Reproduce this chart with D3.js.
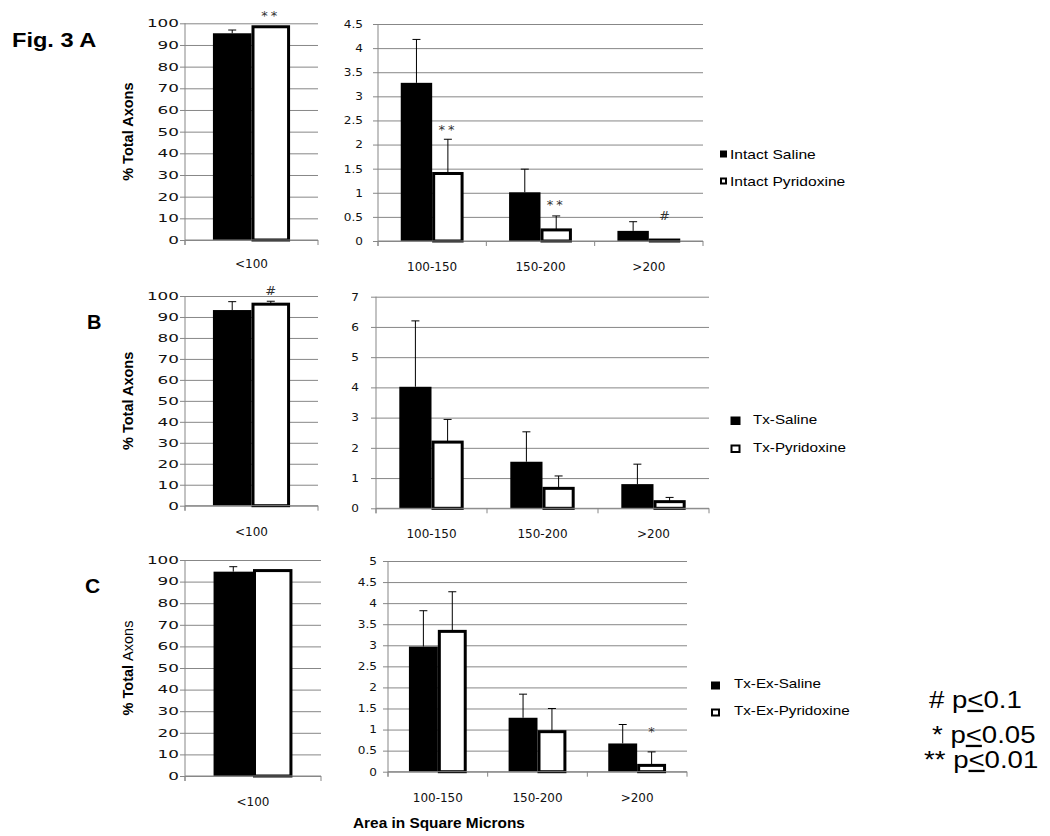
<!DOCTYPE html>
<html>
<head>
<meta charset="utf-8">
<script src="https://cdn.jsdelivr.net/npm/d3@7"></script>
<style>
  body { margin: 0; background: #fff; }
  svg { display: block; }
</style>
</head>
<body>
<script>
// categories and tick values
const leftCats = ["<100"];
const rightCats = ["100-150", "150-200", ">200"];
const leftTicks = [0, 10, 20, 30, 40, 50, 60, 70, 80, 90, 100];
const aTicks = [0, 0.5, 1, 1.5, 2, 2.5, 3, 3.5, 4, 4.5];
const bTicks = [0, 1, 2, 3, 4, 5, 6, 7];
const cTicks = [0, 0.5, 1, 1.5, 2, 2.5, 3, 3.5, 4, 4.5, 5];

// A: intact
const aNames = ["Intact Saline", "Intact Pyridoxine"];
const aSaline = [95.4, 3.28, 1.01, 0.21];
const aSalineErr = [1.5, 0.9, 0.48, 0.19];
const aPyr = [98.4, 1.40, 0.23, 0.02];
const aPyrErr = [0, 0.71, 0.29, 0];
const aMarks = ["**", "**", "**", "#"];
const aMarkAt = [101.5, 2.22, 0.66, 0.43];

// B: transected
const bNames = ["Tx-Saline", "Tx-Pyridoxine"];
const bSaline = [93.3, 4.02, 1.54, 0.80];
const bSalineErr = [4.0, 2.18, 0.99, 0.66];
const bPyr = [96.1, 2.19, 0.66, 0.22];
const bPyrErr = [1.4, 0.75, 0.41, 0.14];
const bMarks = ["#", null, null, null];
const bMarkAt = [100.7, 0, 0, 0];

// C: transected + exercise
const cNames = ["Tx-Ex-Saline", "Tx-Ex-Pyridoxine"];
const cSaline = [94.6, 2.97, 1.28, 0.67];
const cSalineErr = [2.3, 0.85, 0.56, 0.45];
const cPyr = [95.1, 3.33, 0.95, 0.15];
const cPyrErr = [0, 0.94, 0.55, 0.32];
const cMarks = [null, null, null, "*"];
const cMarkAt = [0, 0, 0, 0.85];

const grid = "#878787";
const tickFont = "DejaVu Sans, Verdana, sans-serif";
const arial = "Liberation Sans, Arial, sans-serif";

const svg = d3.select("body").append("svg")
  .attr("width", 1050).attr("height", 836);
svg.append("rect").attr("width", 1050).attr("height", 836).attr("fill", "#fff");

function label(x, y, str, o = {}) {
  return svg.append("text")
    .attr("transform", `translate(${x},${y}) scale(${o.sx || 1},1)`)
    .attr("font-family", o.family || arial)
    .attr("font-size", o.size || 12)
    .attr("font-weight", o.weight || "normal")
    .attr("text-anchor", o.anchor || "start")
    .attr("fill", "#000")
    .text(str);
}

// one bar chart (left or right half of a panel)
function chart(c) {
  const g = svg.append("g");
  const y = d3.scaleLinear().domain([0, c.max]).range([c.yBot, c.yTop]);
  const x = d3.scaleBand().domain(c.cats).range([c.x0, c.x1])
    .paddingInner(0.42).paddingOuter(0.21);
  const xs = d3.scaleBand().domain([0, 1]).range([0, x.bandwidth()]);

  const ya = g.append("g")
    .attr("transform", `translate(${c.x0},0)`)
    .call(d3.axisLeft(y).tickValues(c.ticks).tickSize(-(c.x1 - c.x0))
      .tickPadding(0).tickFormat(d3.format("~g")));
  ya.select(".domain").remove();
  ya.selectAll("line").attr("x1", -5).attr("stroke", grid);
  ya.selectAll("text")
    .attr("x", null)
    .attr("transform", `translate(${-c.gap},0) scale(${c.sx},1)`)
    .attr("font-family", tickFont).attr("font-size", 10.5).attr("fill", "#111");

  c.cats.forEach((cat, i) => {
    const vals = [c.s[i], c.p[i]];
    const errs = [c.se[i], c.pe[i]];
    vals.forEach((v, j) => {
      const bx = x(cat) + xs(j);
      const bw = xs.bandwidth();
      if (j === 0) {
        g.append("rect").attr("x", bx).attr("y", y(v))
          .attr("width", bw).attr("height", y(0) - y(v)).attr("fill", "#000");
      } else {
        g.append("rect").attr("x", bx + 1.5).attr("y", y(v))
          .attr("width", bw - 3).attr("height", y(0) - y(v))
          .attr("fill", "#fff").attr("stroke", "#000").attr("stroke-width", 3);
      }
      const e = errs[j];
      if (e > 0) {
        const cx = bx + bw / 2;
        g.append("line").attr("x1", cx).attr("x2", cx)
          .attr("y1", y(v)).attr("y2", y(v + e)).attr("stroke", "#000");
        g.append("line").attr("x1", cx - 4).attr("x2", cx + 4)
          .attr("y1", y(v + e)).attr("y2", y(v + e)).attr("stroke", "#000");
      }
    });
    if (c.marks[i]) {
      g.append("text")
        .attr("x", x(cat) + xs(1) + xs.bandwidth() / 2)
        .attr("y", y(c.markAt[i]))
        .attr("text-anchor", "middle")
        .attr("font-family", tickFont).attr("font-size", 13)
        .attr("letter-spacing", c.marks[i] === "**" ? 3 : 0)
        .attr("fill", "#333")
        .text(c.marks[i]);
    }
    g.append("text")
      .attr("x", x(cat) + x.bandwidth() / 2)
      .attr("y", c.yBot + c.catDy)
      .attr("text-anchor", "middle")
      .attr("font-family", tickFont).attr("font-size", 12).attr("fill", "#111")
      .text(cat);
  });

  // axis lines
  g.append("line").attr("x1", c.x0).attr("x2", c.x0)
    .attr("y1", c.yTop).attr("y2", c.yBot + 5).attr("stroke", grid);
  g.append("line").attr("x1", c.x0).attr("x2", c.x1)
    .attr("y1", c.yBot).attr("y2", c.yBot).attr("stroke", grid);
  d3.range(c.cats.length + 1).forEach(k => {
    const tx = c.x0 + k * x.step();
    g.append("line").attr("x1", tx).attr("x2", tx)
      .attr("y1", c.yBot).attr("y2", c.yBot + 5).attr("stroke", grid);
  });
}

function panel(p) {
  chart({ x0: 185, x1: p.lx1, yTop: p.lTop, yBot: p.lBot, max: 100, ticks: leftTicks,
    cats: leftCats, s: p.s.slice(0, 1), p: p.p.slice(0, 1), se: p.se.slice(0, 1), pe: p.pe.slice(0, 1),
    marks: p.marks.slice(0, 1), markAt: p.markAt.slice(0, 1), sx: 1.6, gap: 6, catDy: p.lCatDy });
  chart({ x0: p.rx0, x1: p.rx1, yTop: p.rTop, yBot: p.rBot, max: p.rMax, ticks: p.rTicks,
    cats: rightCats, s: p.s.slice(1), p: p.p.slice(1), se: p.se.slice(1), pe: p.pe.slice(1),
    marks: p.marks.slice(1), markAt: p.markAt.slice(1), sx: 1.15, gap: p.rGap, catDy: 30 });
  const yt = svg.append("text")
    .attr("transform", `translate(133,${(p.lTop + p.lBot) / 2}) rotate(-90)`)
    .attr("text-anchor", "middle")
    .attr("font-family", arial).attr("font-size", 14.5).attr("font-weight", "bold");
  yt.append("tspan").text("% Total ");
  yt.append("tspan").attr("font-weight", p.axonsWeight).text("Axons");
}

panel({ lx1: 318, lTop: 23.3, lBot: 240, lCatDy: 28, rx0: 378, rx1: 703, rTop: 24, rBot: 241,
  rMax: 4.5, rTicks: aTicks, rGap: 15, axonsWeight: "bold",
  s: aSaline, p: aPyr, se: aSalineErr, pe: aPyrErr, marks: aMarks, markAt: aMarkAt });
panel({ lx1: 318, lTop: 296, lBot: 505.7, lCatDy: 30, rx0: 376, rx1: 709, rTop: 296.7, rBot: 508.3,
  rMax: 7, rTicks: bTicks, rGap: 17, axonsWeight: "bold",
  s: bSaline, p: bPyr, se: bSalineErr, pe: bPyrErr, marks: bMarks, markAt: bMarkAt });
panel({ lx1: 321, lTop: 560, lBot: 776, lCatDy: 30, rx0: 388, rx1: 687, rTop: 561, rBot: 771.7,
  rMax: 5, rTicks: cTicks, rGap: 11, axonsWeight: "normal",
  s: cSaline, p: cPyr, se: cSalineErr, pe: cPyrErr, marks: cMarks, markAt: cMarkAt });

// panel letters
label(12, 47.3, "Fig. 3 A", { size: 20, weight: "bold", sx: 1.18 });
label(87, 329.3, "B", { size: 20, weight: "bold" });
label(85, 593.3, "C", { size: 21, weight: "bold" });

// legends
function legend(names, sq, tx, y1, y2, size, sx) {
  [y1, y2].forEach((yy, j) => {
    if (j === 0) {
      svg.append("rect").attr("x", sq.x).attr("y", yy - sq.h - sq.lift)
        .attr("width", sq.w).attr("height", sq.h).attr("fill", "#000");
    } else {
      svg.append("rect").attr("x", sq.x + 1).attr("y", yy - sq.h - sq.lift + 1)
        .attr("width", sq.w - 2).attr("height", sq.h - 2)
        .attr("fill", "#fff").attr("stroke", "#000").attr("stroke-width", 2);
    }
    label(tx, yy, names[j], { size: size, sx: sx });
  });
}
legend(aNames, { x: 720, w: 7, h: 7, lift: 1.5 }, 730, 159, 186, 12, 1.3);
legend(bNames, { x: 730.5, w: 10, h: 8.5, lift: -1 }, 753, 424, 452, 13, 1.17);
legend(cNames, { x: 711, w: 9, h: 8, lift: -1.5 }, 734, 688, 715, 13, 1.17);

// significance key
function pKey(x, y, pre, lev) {
  const t = svg.append("text")
    .attr("transform", `translate(${x},${y}) scale(1.2,1)`)
    .attr("font-family", arial).attr("font-size", 23).attr("fill", "#000");
  t.append("tspan").text(pre + " p");
  t.append("tspan").style("text-decoration", "underline").text("<");
  t.append("tspan").text(lev);
}
pKey(929, 708, "#", "0.1");
pKey(932, 743, "*", "0.05");
pKey(924, 768, "**", "0.01");

// x axis title
label(353, 828, "Area in Square Microns", { size: 14, weight: "bold", sx: 1.1 });
</script>
</body>
</html>
